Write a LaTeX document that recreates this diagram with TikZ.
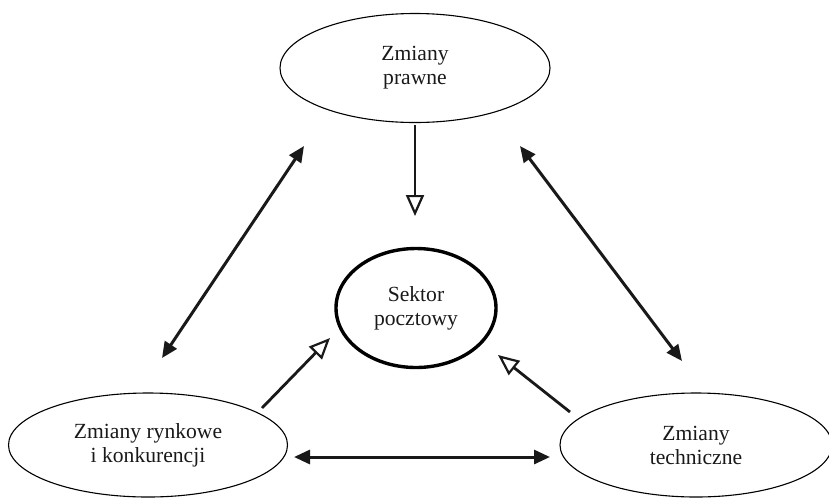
\documentclass[tikz,border=0pt]{standalone}
\usepackage{fontspec}
\setmainfont{Liberation Serif}
\usetikzlibrary{shapes.geometric,arrows.meta}
\begin{document}
\begin{tikzpicture}[x=1pt,y=-1pt,
  ell/.style={ellipse,draw,line width=1.1pt,inner sep=0pt,align=center,
    font=\fontsize{21.6}{24}\selectfont,text=black!90},
  dbl/.style={line width=3pt,{Triangle[length=16pt,width=14pt]}-{Triangle[length=16pt,width=14pt]},draw=black!90},
  opn/.style={line width=2.8pt,-{Triangle[open,length=21pt,width=18pt,line width=2.2pt]},draw=black!90}]
\useasboundingbox (0,0) rectangle (829,499);
\node[ell,minimum width=270pt,minimum height=109pt] (prawne) at (415,68) {Zmiany\\prawne};
\node[ell,line width=3.4pt,minimum width=160pt,minimum height=119pt] (sektor) at (416,308) {Sektor\\pocztowy};
\node[ell,minimum width=279pt,minimum height=104pt] (rynek) at (148,445) {Zmiany rynkowe\\i konkurencji};
\node[ell,minimum width=272pt,minimum height=104pt] (tech) at (696,445) {Zmiany\\techniczne};
% endpoints
\coordinate (p1) at (415,125);
\coordinate (p2) at (415,216);
\coordinate (l1) at (304,146);
\coordinate (l2) at (162,358);
\coordinate (r1) at (520,146);
\coordinate (r2) at (682,361);
\coordinate (h1) at (294,457);
\coordinate (h2) at (550,457);
\coordinate (a1) at (262,408);
\coordinate (a2) at (330,338);
\coordinate (b1) at (570,412);
\coordinate (b2) at (498,355);
\draw[opn] (p1) -- (p2);
\draw[dbl] (l2) -- (l1);
\draw[dbl] (r1) -- (r2);
\draw[dbl] (h1) -- (h2);
\draw[opn] (a1) -- (a2);
\draw[opn] (b1) -- (b2);
\end{tikzpicture}
\end{document}
